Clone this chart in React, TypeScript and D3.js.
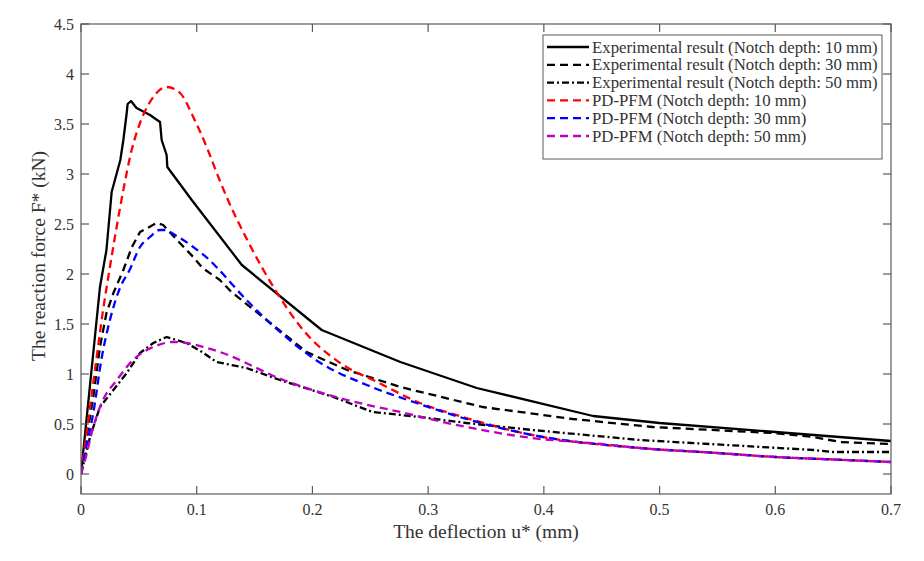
import * as d3 from "d3";

const xTicks = [0, 0.1, 0.2, 0.3, 0.4, 0.5, 0.6, 0.7];
const yTicks = [0, 0.5, 1, 1.5, 2, 2.5, 3, 3.5, 4, 4.5];

const exp10U = [0, 0.0164, 0.022, 0.0265, 0.034, 0.0366, 0.0395, 0.0403, 0.0432, 0.048, 0.0596, 0.0683, 0.0697, 0.074, 0.0746, 0.0957, 0.139, 0.208, 0.276, 0.342, 0.4425, 0.5, 0.6, 0.7];
const exp10F = [0, 1.87, 2.24, 2.82, 3.14, 3.34, 3.61, 3.7, 3.73, 3.66, 3.59, 3.52, 3.34, 3.19, 3.07, 2.74, 2.09, 1.44, 1.12, 0.86, 0.58, 0.51, 0.42, 0.33];

const exp30U = [0, 0.0035, 0.0106, 0.0164, 0.022, 0.028, 0.0366, 0.044, 0.051, 0.0654, 0.071, 0.083, 0.097, 0.105, 0.12, 0.13, 0.155, 0.195, 0.23, 0.276, 0.347, 0.425, 0.494, 0.598, 0.633, 0.656, 0.7];
const exp30F = [0, 0.28, 0.77, 1.27, 1.61, 1.81, 2.04, 2.27, 2.42, 2.51, 2.49, 2.34, 2.17, 2.06, 1.94, 1.82, 1.59, 1.22, 1.04, 0.87, 0.67, 0.55, 0.47, 0.41, 0.37, 0.32, 0.3];

const exp50U = [0, 0.0078, 0.0164, 0.028, 0.0395, 0.051, 0.0625, 0.074, 0.091, 0.106, 0.117, 0.143, 0.172, 0.218, 0.252, 0.293, 0.333, 0.39, 0.483, 0.558, 0.633, 0.65, 0.7];
const exp50F = [0, 0.37, 0.67, 0.84, 1.01, 1.21, 1.31, 1.37, 1.31, 1.21, 1.12, 1.06, 0.94, 0.77, 0.62, 0.57, 0.51, 0.44, 0.34, 0.29, 0.24, 0.22, 0.22];

const pd10U = [0, 0.0063, 0.0121, 0.0187, 0.025, 0.0308, 0.0366, 0.0438, 0.051, 0.0596, 0.074, 0.0856, 0.097, 0.1086, 0.1187, 0.127, 0.145, 0.169, 0.192, 0.224, 0.256, 0.291, 0.333, 0.39, 0.483, 0.55, 0.6, 0.65, 0.7];
const pd10F = [0, 0.54, 1.04, 1.61, 2.07, 2.47, 2.84, 3.24, 3.51, 3.72, 3.87, 3.81, 3.57, 3.27, 2.97, 2.74, 2.31, 1.82, 1.44, 1.11, 0.92, 0.72, 0.56, 0.39, 0.26, 0.21, 0.17, 0.145, 0.12];

const pd30U = [0, 0.0035, 0.0106, 0.018, 0.025, 0.034, 0.042, 0.051, 0.0596, 0.068, 0.074, 0.077, 0.097, 0.111, 0.117, 0.143, 0.172, 0.207, 0.247, 0.29, 0.333, 0.39, 0.483, 0.55, 0.6, 0.65, 0.7];
const pd30F = [0, 0.21, 0.61, 1.17, 1.54, 1.87, 2.04, 2.27, 2.37, 2.44, 2.44, 2.42, 2.27, 2.14, 2.07, 1.74, 1.42, 1.11, 0.89, 0.71, 0.55, 0.39, 0.26, 0.21, 0.17, 0.145, 0.12];

const pd50U = [0, 0.0035, 0.0106, 0.019, 0.031, 0.045, 0.0625, 0.08, 0.091, 0.106, 0.12, 0.175, 0.23, 0.276, 0.333, 0.39, 0.45, 0.483, 0.55, 0.6, 0.65, 0.7];
const pd50F = [0, 0.14, 0.47, 0.74, 0.94, 1.14, 1.27, 1.32, 1.31, 1.27, 1.22, 0.94, 0.74, 0.62, 0.47, 0.36, 0.3, 0.26, 0.21, 0.17, 0.145, 0.12];

const labels = [
  "Experimental result (Notch depth: 10 mm)",
  "Experimental result (Notch depth: 30 mm)",
  "Experimental result (Notch depth: 50 mm)",
  "PD-PFM (Notch depth: 10 mm)",
  "PD-PFM (Notch depth: 30 mm)",
  "PD-PFM (Notch depth: 50 mm)",
];

const font = "'Liberation Serif', 'Times New Roman', serif";
const axisColor = "#5a5a5a";
const textColor = "#333";

const series = [
  { u: exp10U, f: exp10F, color: "#000", dash: "none", smooth: false },
  { u: exp30U, f: exp30F, color: "#000", dash: "8,5", smooth: false },
  { u: exp50U, f: exp50F, color: "#000", dash: "7,3,2,3", smooth: false },
  { u: pd10U, f: pd10F, color: "#ff0000", dash: "8,5", smooth: true },
  { u: pd30U, f: pd30F, color: "#0000ff", dash: "8,5", smooth: true },
  { u: pd50U, f: pd50F, color: "#c000c0", dash: "8,5", smooth: true },
];

const m = { left: 81, top: 24, right: 891, bottom: 494 };

export default function App() {
  const x = d3.scaleLinear().domain([0, 0.7]).range([m.left, m.right]);
  const y = d3.scaleLinear().domain([-0.2, 4.5]).range([m.bottom, m.top]);
  const tick = 8;

  const paths = series.map((s) =>
    d3
      .line<number>()
      .x((_, i) => x(s.u[i]))
      .y((d) => y(d))
      .curve(s.smooth ? d3.curveMonotoneX : d3.curveLinear)(s.f)
  );

  const legX = 543, legY = 35, legW = 339, legH = 124, rowH = 17.8;

  return (
    <svg width={924} height={561} style={{ position: "absolute", left: 0, top: 0, display: "block", background: "#fff" }}>
      <rect x={0} y={0} width={924} height={561} fill="#fff" />
      <defs>
        <clipPath id="plot">
          <rect x={m.left} y={m.top} width={m.right - m.left} height={m.bottom - m.top} />
        </clipPath>
      </defs>

      {/* series */}
      <g clipPath="url(#plot)">
        {series.map((s, i) => (
          <path key={i} d={paths[i] ?? ""} fill="none" stroke={s.color} strokeWidth={2.3}
            strokeDasharray={s.dash} strokeLinejoin="round" />
        ))}
      </g>

      {/* axes box and ticks */}
      <rect x={m.left} y={m.top} width={m.right - m.left} height={m.bottom - m.top}
        fill="none" stroke={axisColor} strokeWidth={1.2} />
      {xTicks.map((t) => (
        <g key={"x" + t}>
          <line x1={x(t)} x2={x(t)} y1={m.bottom} y2={m.bottom - tick} stroke={axisColor} strokeWidth={1.2} />
          <line x1={x(t)} x2={x(t)} y1={m.top} y2={m.top + tick} stroke={axisColor} strokeWidth={1.2} />
          <text x={x(t)} y={m.bottom + 21} textAnchor="middle" fontFamily={font} fontSize={16} fill={textColor}>
            {t}
          </text>
        </g>
      ))}
      {yTicks.map((t) => (
        <g key={"y" + t}>
          <line x1={m.left} x2={m.left + tick} y1={y(t)} y2={y(t)} stroke={axisColor} strokeWidth={1.2} />
          <line x1={m.right} x2={m.right - tick} y1={y(t)} y2={y(t)} stroke={axisColor} strokeWidth={1.2} />
          <text x={m.left - 7} y={y(t) + 5.5} textAnchor="end" fontFamily={font} fontSize={16} fill={textColor}>
            {t}
          </text>
        </g>
      ))}

      <text x={(m.left + m.right) / 2} y={538} textAnchor="middle" fontFamily={font} fontSize={19.5} fill={textColor}>
        The deflection u* (mm)
      </text>
      <text transform={`translate(45, 256) rotate(-90)`} textAnchor="middle"
        fontFamily={font} fontSize={19.5} fill={textColor}>
        The reaction force F* (kN)
      </text>

      {/* legend */}
      <rect x={legX} y={legY} width={legW} height={legH} fill="#fff" stroke={axisColor} strokeWidth={1} />
      {labels.map((l, i) => {
        const cy = legY + 12 + i * rowH;
        const s = series[i];
        return (
          <g key={l}>
            <line x1={legX + 4} x2={legX + 46} y1={cy} y2={cy} stroke={s.color} strokeWidth={2.3}
              strokeDasharray={s.dash} />
            <text x={legX + 49} y={cy + 5.5} fontFamily={font} fontSize={16.8} fill={textColor}>
              {l}
            </text>
          </g>
        );
      })}
    </svg>
  );
}
